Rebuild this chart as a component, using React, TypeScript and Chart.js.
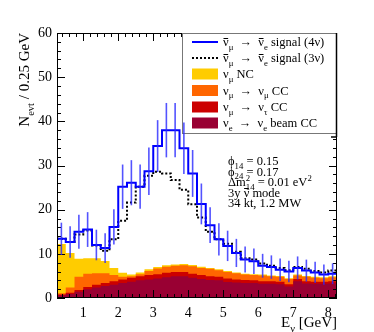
import React, { useEffect, useRef } from 'react';
import { Chart, registerables } from 'chart.js';

Chart.register(...registerables);

// ---------------- data ----------------
const binEdges = [0.25, 0.5, 0.75, 1.0, 1.25, 1.5, 1.75, 2.0, 2.25, 2.5, 2.75, 3.0, 3.25, 3.5, 3.75, 4.0, 4.25, 4.5, 4.75, 5.0, 5.25, 5.5, 5.75, 6.0, 6.25, 6.5, 6.75, 7.0, 7.25, 7.5, 7.75, 8.0, 8.25];

const signal4nu = [13.4, 12.7, 15.0, 15.5, 12.0, 11.3, 16.1, 25.2, 26.1, 25.2, 28.7, 34.4, 38.0, 38.0, 33.9, 28.2, 21.3, 16.5, 13.3, 11.8, 10.2, 8.7, 8.3, 7.3, 7.0, 6.4, 6.0, 6.8, 6.2, 5.8, 5.3, 5.5];
const signal4nuErr = [3.66, 3.56, 3.87, 3.94, 3.46, 3.36, 4.01, 5.02, 5.11, 5.02, 5.36, 5.87, 6.16, 6.16, 5.82, 5.31, 4.62, 4.06, 3.65, 3.44, 3.19, 2.95, 2.88, 2.70, 2.65, 2.53, 2.45, 2.61, 2.49, 2.41, 2.30, 2.35];
const signal3nu = [13.4, 12.7, 14.4, 15.3, 11.9, 10.7, 13.3, 17.5, 21.6, 25.2, 27.7, 28.6, 28.2, 26.7, 24.5, 21.2, 18.2, 15.0, 13.3, 12.3, 10.5, 9.0, 8.7, 7.8, 7.3, 6.8, 6.3, 7.0, 6.6, 6.1, 5.8, 6.2];

const nuEBeamCC = [0.6, 0.9, 1.4, 2.0, 2.4, 2.7, 3.0, 3.4, 3.7, 4.0, 4.2, 4.4, 4.7, 4.9, 4.9, 4.6, 4.3, 4.1, 4.0, 3.6, 3.5, 3.4, 3.4, 3.2, 3.2, 3.1, 2.6, 3.8, 3.3, 3.2, 3.2, 3.3];
const nuTauCC = [0.2, 0.3, 0.4, 0.5, 0.6, 0.7, 0.8, 0.8, 0.9, 0.9, 1.0, 1.0, 1.0, 1.0, 1.0, 0.9, 0.9, 0.8, 0.8, 0.8, 0.7, 0.7, 0.6, 0.6, 0.6, 0.6, 0.5, 0.5, 0.5, 0.5, 0.5, 0.5];
const nuMuCC = [0.3, 1.2, 3.0, 3.0, 2.6, 2.2, 1.4, 0.6, 0.3, 0.5, 0.9, 1.3, 1.4, 1.4, 1.5, 1.7, 1.6, 1.7, 1.5, 1.5, 1.4, 1.2, 1.2, 1.3, 1.1, 1.1, 1.2, 0.8, 1.0, 0.9, 0.8, 0.9];
const nuMuNC = [11.1, 7.8, 4.1, 3.5, 3.4, 2.8, 1.6, 0.9, 0.4, 0.4, 0.4, 0.3, 0.3, 0.3, 0.3, 0.3, 0.3, 0.2, 0.2, 0.2, 0.2, 0.2, 0.2, 0.2, 0.2, 0.2, 0.2, 0.2, 0.2, 0.2, 0.2, 0.2];

const xTickValues = [1, 2, 3, 4, 5, 6, 7, 8];
const yTickValues = [0, 10, 20, 30, 40, 50, 60];

// ---------------- helpers ----------------
const FONT = '"Liberation Serif", "Times New Roman", serif';

type Seg = { t: string; k?: 'sub' | 'sup'; bar?: boolean; noAdv?: boolean };

const legendLabels: Seg[][] = [
  [{ t: 'ν', bar: true }, { t: 'μ', k: 'sub' }, { t: '  →  ' }, { t: 'ν', bar: true }, { t: 'e', k: 'sub' }, { t: ' signal (4ν)' }],
  [{ t: 'ν', bar: true }, { t: 'μ', k: 'sub' }, { t: '  →  ' }, { t: 'ν', bar: true }, { t: 'e', k: 'sub' }, { t: ' signal (3ν)' }],
  [{ t: 'ν' }, { t: 'μ', k: 'sub' }, { t: ' NC' }],
  [{ t: 'ν' }, { t: 'μ', k: 'sub' }, { t: '  →  ν' }, { t: 'μ', k: 'sub' }, { t: ' CC' }],
  [{ t: 'ν' }, { t: 'μ', k: 'sub' }, { t: '  →  ν' }, { t: 'τ', k: 'sub' }, { t: ' CC' }],
  [{ t: 'ν' }, { t: 'e', k: 'sub' }, { t: '  →  ν' }, { t: 'e', k: 'sub' }, { t: ' beam CC' }],
];

const annotationLines: Seg[][] = [
  [{ t: 'ϕ' }, { t: '14', k: 'sub' }, { t: ' = 0.15' }],
  [{ t: 'ϕ' }, { t: '24', k: 'sub' }, { t: ' = 0.17' }],
  [{ t: 'Δm' }, { t: '2', k: 'sup', noAdv: true }, { t: '14', k: 'sub' }, { t: ' = 0.01 eV' }, { t: '2', k: 'sup' }],
  [{ t: '3y ' }, { t: 'ν', bar: true }, { t: ' mode' }],
  [{ t: '34 kt, 1.2 MW' }],
];

const yTitle: Seg[] = [{ t: 'N' }, { t: 'evt', k: 'sub' }, { t: ' / 0.25 GeV' }];
const xTitle: Seg[] = [{ t: 'E' }, { t: 'ν', k: 'sub' }, { t: ' [GeV]' }];

const C_NC = '#ffcc00';
const C_MUCC = '#ff6600';
const C_TAU = '#cc0000';
const C_BEAM = '#990033';

function segFont(size: number, s: Seg) {
  return `${s.k ? size * 0.7 : size}px ${FONT}`;
}
function richWidth(ctx: CanvasRenderingContext2D, segs: Seg[], size: number) {
  let w = 0;
  for (const s of segs) {
    ctx.font = segFont(size, s);
    if (!s.noAdv) w += ctx.measureText(s.t).width;
  }
  return w;
}
function drawRich(ctx: CanvasRenderingContext2D, segs: Seg[], x: number, y: number, size: number, align: 'left' | 'right' = 'left') {
  let cx = align === 'right' ? x - richWidth(ctx, segs, size) : x;
  ctx.textAlign = 'left';
  ctx.textBaseline = 'alphabetic';
  ctx.fillStyle = '#000';
  ctx.strokeStyle = '#000';
  for (const s of segs) {
    ctx.font = segFont(size, s);
    const dy = s.k === 'sub' ? size * 0.3 : s.k === 'sup' ? -size * 0.42 : 0;
    ctx.fillText(s.t, cx, y + dy);
    const w = ctx.measureText(s.t).width;
    if (s.bar) {
      ctx.beginPath();
      ctx.lineWidth = 1;
      const by = Math.round(y - size * 0.66) + 0.5;
      ctx.moveTo(cx + 0.5, by);
      ctx.lineTo(cx + w - 0.5, by);
      ctx.stroke();
    }
    if (!s.noAdv) cx += w;
  }
}

const stepPoints = (vals: number[]) =>
  binEdges.map((e, i) => ({ x: e, y: vals[Math.min(i, vals.length - 1)] }));

const cumulative = (...arrs: number[][]) => arrs[0].map((_, i) => arrs.reduce((s, a) => s + a[i], 0));

const overlayPlugin = {
  id: 'rootOverlay',
  afterDraw(chart: any) {
    const ctx: CanvasRenderingContext2D = chart.ctx;
    const { left, right, top, bottom } = chart.chartArea;
    const xs = chart.scales.x;
    const ys = chart.scales.y;
    ctx.save();

    // frame
    ctx.strokeStyle = '#000';
    ctx.lineWidth = 1;
    ctx.strokeRect(Math.round(left) + 0.5, Math.round(top) + 0.5, Math.round(right - left) - 1, Math.round(bottom - top) - 1);

    // ticks
    const tick = (x1: number, y1: number, x2: number, y2: number) => {
      ctx.beginPath();
      ctx.moveTo(x1, y1);
      ctx.lineTo(x2, y2);
      ctx.stroke();
    };
    const xMajor = 8, xMinor = 4;
    for (let k = 2; k <= 41; k++) {
      const v = k * 0.2;
      const isMajor = Math.abs(v - Math.round(v)) < 1e-6;
      const px = Math.round(xs.getPixelForValue(v)) + 0.5;
      const len = isMajor ? xMajor : xMinor;
      tick(px, bottom, px, bottom - len);
      tick(px, top, px, top + len);
    }
    for (let v = 0; v <= 60; v += 2) {
      const py = Math.round(ys.getPixelForValue(v)) + 0.5;
      const len = v % 10 === 0 ? 8 : 4;
      tick(left, py, left + len, py);
      tick(right, py, right - len, py);
    }

    // legend box
    const lx = 182, ly = 33, lw = 155, lh = 101;
    ctx.fillStyle = '#fff';
    ctx.fillRect(lx, ly, lw, lh);
    ctx.strokeStyle = '#777';
    ctx.strokeRect(lx + 0.5, ly + 0.5, lw - 1, lh - 1);
    ctx.strokeStyle = '#000';
    ctx.lineWidth = 1.5;
    tick(right - 0.5, ly, right - 0.5, ly + lh + 3);
    tick(right - 6, ly + lh + 3, right, ly + lh + 3);
    ctx.lineWidth = 1;

    const rowY = [42, 58, 74, 90.5, 107, 123];
    const symX0 = 192, symX1 = 218;
    ctx.strokeStyle = '#0000ff';
    ctx.lineWidth = 2;
    tick(symX0, rowY[0], symX1, rowY[0]);
    ctx.strokeStyle = '#000';
    ctx.setLineDash([2, 2]);
    tick(symX0, rowY[1], symX1, rowY[1]);
    ctx.setLineDash([]);
    ctx.lineWidth = 1;
    const boxColors = [C_NC, C_MUCC, C_TAU, C_BEAM];
    boxColors.forEach((c, i) => {
      ctx.fillStyle = c;
      ctx.fillRect(symX0, rowY[i + 2] - 5.5, symX1 - symX0, 11);
    });
    legendLabels.forEach((segs, i) => drawRich(ctx, segs, 223, rowY[i] + 4, 12.5));

    // error bars on 4-nu signal
    ctx.save();
    ctx.beginPath();
    ctx.rect(left, top, right - left, bottom - top);
    ctx.clip();
    ctx.strokeStyle = 'rgba(40,40,255,0.8)';
    ctx.lineWidth = 1.6;
    signal4nu.forEach((v, i) => {
      const c = (binEdges[i] + binEdges[i + 1]) / 2;
      const px = xs.getPixelForValue(c);
      tick(px, ys.getPixelForValue(v - signal4nuErr[i]), px, ys.getPixelForValue(v + signal4nuErr[i]));
    });
    ctx.restore();

    // annotation
    const annY = [165, 175.5, 186, 196.5, 207];
    annotationLines.forEach((segs, i) => drawRich(ctx, segs, 228, annY[i], 12.5));

    // axis titles
    drawRich(ctx, xTitle, 337, 327, 15, 'right');
    ctx.save();
    ctx.translate(29, 33);
    ctx.rotate(-Math.PI / 2);
    drawRich(ctx, yTitle, 0, 0, 15, 'right');
    ctx.restore();

    ctx.restore();
  },
};

export default function App() {
  const ref = useRef<HTMLCanvasElement | null>(null);
  useEffect(() => {
    if (!ref.current) return;
    const cBeam = cumulative(nuEBeamCC);
    const cTau = cumulative(nuEBeamCC, nuTauCC);
    const cMu = cumulative(nuEBeamCC, nuTauCC, nuMuCC);
    const cNC = cumulative(nuEBeamCC, nuTauCC, nuMuCC, nuMuNC);
    const fillDs = (vals: number[], color: string, order: number) => ({
      data: stepPoints(vals),
      stepped: 'before',
      fill: 'origin',
      backgroundColor: color,
      borderColor: 'rgba(0,0,0,0)',
      borderWidth: 0,
      pointRadius: 0,
      order,
    });
    const chart = new Chart(ref.current, {
      type: 'line',
      data: {
        datasets: [
          fillDs(cNC, C_NC, 10),
          fillDs(cMu, C_MUCC, 9),
          fillDs(cTau, C_TAU, 8),
          fillDs(cBeam, C_BEAM, 7),
          {
            data: stepPoints(signal3nu),
            stepped: 'before',
            fill: false,
            borderColor: '#000',
            borderWidth: 2,
            borderDash: [2, 2],
            pointRadius: 0,
            order: 2,
          },
          {
            data: stepPoints(signal4nu),
            stepped: 'before',
            fill: false,
            borderColor: '#0000ff',
            borderWidth: 2,
            pointRadius: 0,
            order: 1,
          },
        ] as any,
      },
      options: {
        animation: false,
        responsive: false,
        maintainAspectRatio: false,
        layout: { padding: { left: 0, right: 37, top: 33, bottom: 0 } },
        plugins: { legend: { display: false }, tooltip: { enabled: false } },
        scales: {
          x: {
            type: 'linear',
            min: 0.25,
            max: 8.25,
            grid: { display: false, drawTicks: false },
            border: { display: false },
            ticks: { font: { family: FONT, size: 14 }, color: '#000', padding: 7, maxRotation: 0, autoSkip: false },
            afterBuildTicks: (s: any) => { s.ticks = xTickValues.map((v) => ({ value: v })); },
            afterFit: (s: any) => { s.height = 34; },
          },
          y: {
            type: 'linear',
            min: 0,
            max: 60,
            grid: { display: false, drawTicks: false },
            border: { display: false },
            ticks: { font: { family: FONT, size: 14 }, color: '#000', padding: 5, autoSkip: false },
            afterBuildTicks: (s: any) => { s.ticks = yTickValues.map((v) => ({ value: v })); },
            afterFit: (s: any) => { s.width = 57; },
          },
        },
      } as any,
      plugins: [overlayPlugin],
    });
    return () => chart.destroy();
  }, []);
  return (
    <div style={{ position: 'absolute', left: 0, top: 0, width: 374, height: 332, background: '#fff' }}>
      <canvas ref={ref} width={374} height={332} style={{ display: 'block', width: 374, height: 332 }} />
    </div>
  );
}
